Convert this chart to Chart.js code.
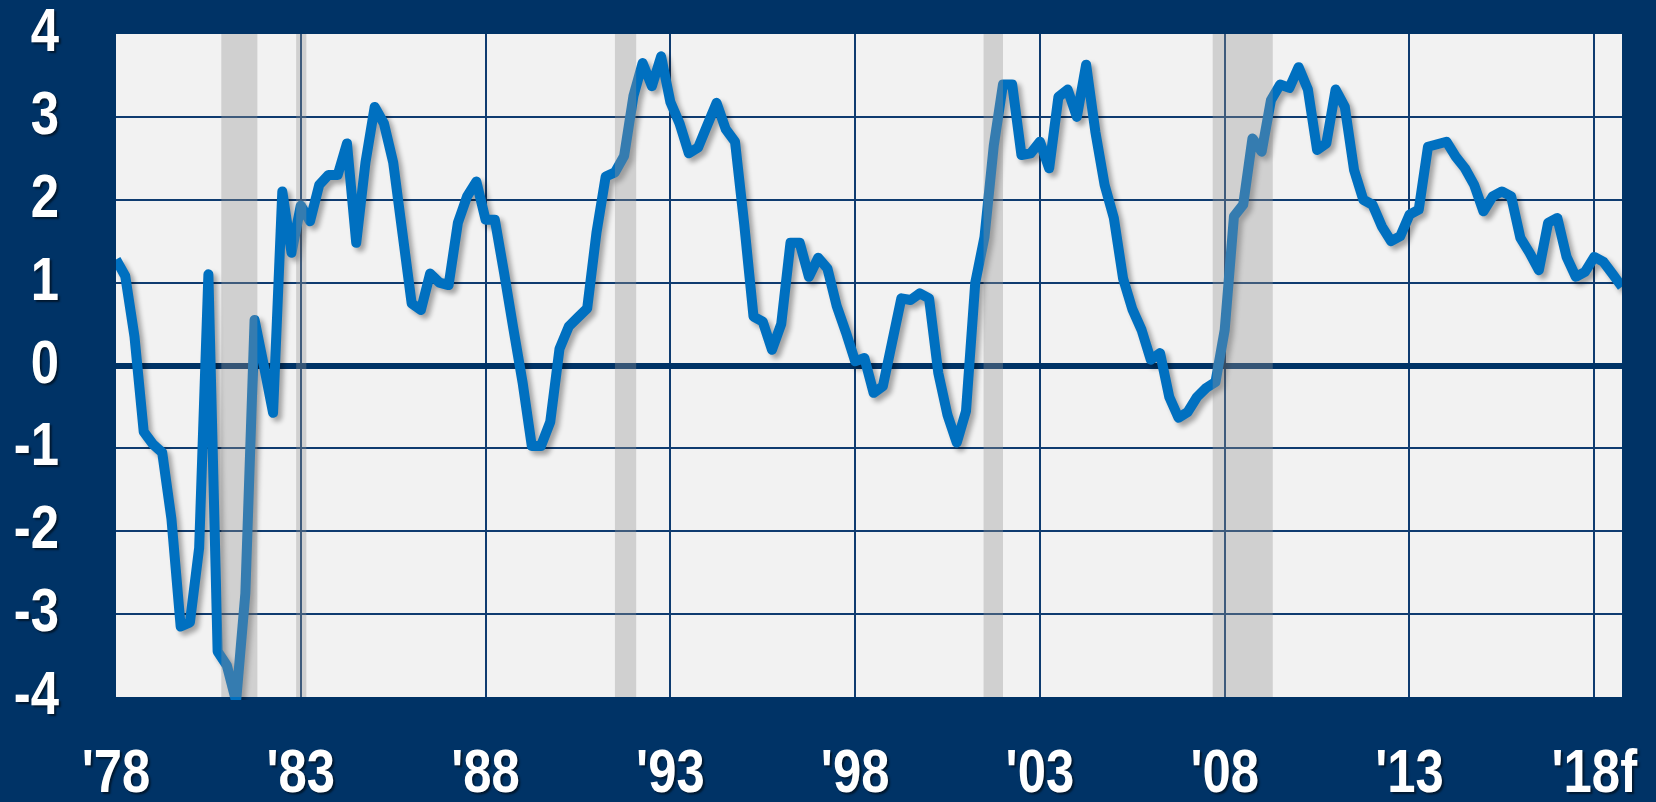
<!DOCTYPE html>
<html><head><meta charset="utf-8">
<script src="https://cdn.jsdelivr.net/npm/chart.js@4/dist/chart.umd.min.js"></script>
<style>html,body{margin:0;padding:0;background:#003366;overflow:hidden}canvas{display:block}</style>
</head><body>
<canvas id="c" width="1656" height="802"></canvas>
<script>
// ---------- data ----------
const quarters = [];
for (let y = 1978; y <= 2018; y++) for (let q = 1; q <= 4; q++) quarters.push(y + ' Q' + q);

const values = [
  1.28, 1.08, 0.35, -0.8, -0.95, -1.05, -1.85, -3.15, -3.1, -2.2,
  1.1, -3.45, -3.62, -4.05, -2.75, 0.55, 0.0, -0.57, 2.1, 1.36,
  1.93, 1.74, 2.18, 2.3, 2.3, 2.68, 1.48, 2.45, 3.12, 2.92,
  2.45, 1.6, 0.75, 0.67, 1.11, 1.0, 0.97, 1.72, 2.04, 2.22,
  1.76, 1.76, 1.12, 0.45, -0.2, -0.97, -0.97, -0.68, 0.2, 0.47,
  0.58, 0.69, 1.6, 2.28, 2.33, 2.53, 3.25, 3.65, 3.37, 3.73,
  3.18, 2.92, 2.56, 2.63, 2.9, 3.17, 2.85, 2.7, 1.7, 0.59,
  0.53, 0.19, 0.5, 1.48, 1.48, 1.07, 1.3, 1.17, 0.72, 0.4,
  0.05, 0.09, -0.33, -0.25, 0.28, 0.81, 0.79, 0.87, 0.81, -0.09,
  -0.6, -0.93, -0.55, 1.0, 1.55, 2.65, 3.39, 3.39, 2.54, 2.56,
  2.7, 2.38, 3.24, 3.33, 3.0, 3.63, 2.82, 2.18, 1.78, 1.05,
  0.68, 0.43, 0.07, 0.15, -0.38, -0.63, -0.56, -0.38, -0.27, -0.2,
  0.43, 1.8, 1.94, 2.74, 2.58, 3.2, 3.39, 3.35, 3.6, 3.33,
  2.6, 2.68, 3.33, 3.12, 2.36, 2.0, 1.94, 1.68, 1.5, 1.56,
  1.82, 1.88, 2.64, 2.67, 2.7, 2.52, 2.38, 2.18, 1.86, 2.04,
  2.1, 2.04, 1.54, 1.36, 1.15, 1.72, 1.78, 1.31, 1.07, 1.13,
  1.31, 1.25, 1.1, 0.95
];

const xTickLabels = ["'78", "'83", "'88", "'93", "'98", "'03", "'08", "'13", "'18f"];
const xTickEvery = 20;          // quarters between labelled years
const yMin = -4, yMax = 4, yStep = 1;

// recession shading, in quarter positions on the category axis
const recessionStart = [11.4, 19.5, 54.0, 93.9, 118.7];
const recessionEnd   = [15.3, 20.6, 56.3, 96.0, 125.2];

// ---------- styles ----------
const NAVY = '#003366';
const GRID = '#0f3c70';
const LINE = '#0070c0';
const FONT = "'Liberation Sans', Arial, sans-serif";
const CONDENSE = 0.82;   // narrow face look

const plotBg = {
  id: 'plotBg',
  beforeDraw(chart) {
    const {ctx, chartArea: a} = chart;
    ctx.save();
    ctx.fillStyle = '#f2f2f2';
    ctx.fillRect(a.left, a.top, a.right - a.left, a.bottom - a.top);
    ctx.restore();
    Object.values(chart.scales).forEach(s => {
      if (s._labelsPatched) return;
      s.drawLabels = function (area) {
        const c = this.ctx;
        const items = this.getLabelItems(area);
        for (const item of items) {
          if (!item.label) continue;
          const o = item.options;
          c.save();
          c.translate(o.translation[0], o.translation[1]);
          c.scale(CONDENSE, 1);
          c.font = item.font.string;
          c.fillStyle = o.color;
          c.textAlign = o.textAlign;
          c.textBaseline = o.textBaseline;
          c.shadowColor = 'rgba(0,0,0,0.55)';
          c.shadowOffsetX = 2; c.shadowOffsetY = 2; c.shadowBlur = 2;
          c.fillText(String(item.label), 0, item.textOffset);
          c.restore();
        }
      };
      s._labelsPatched = true;
    });
  }
};

const lineShadow = {
  id: 'lineShadow',
  beforeDatasetDraw(chart) {
    const ctx = chart.ctx;
    ctx.save();
    ctx.shadowColor = 'rgba(0,0,0,0.33)';
    ctx.shadowOffsetX = 4; ctx.shadowOffsetY = 4; ctx.shadowBlur = 5;
  },
  afterDatasetDraw(chart) { chart.ctx.restore(); }
};

const recessions = {
  id: 'recessions',
  afterDatasetsDraw(chart) {
    const {ctx, chartArea: a, scales: {x}} = chart;
    ctx.save();
    ctx.fillStyle = 'rgba(146,146,146,0.36)';
    recessionStart.forEach((s, k) => {
      const x0 = x.getPixelForValue(s), x1 = x.getPixelForValue(recessionEnd[k]);
      ctx.fillRect(x0, a.top, x1 - x0, a.bottom - a.top);
    });
    ctx.restore();
  }
};

new Chart(document.getElementById('c'), {
  type: 'line',
  data: {
    labels: quarters,
    datasets: [{
      data: values,
      borderColor: LINE,
      borderWidth: 10,
      borderJoinStyle: 'round',
      borderCapStyle: 'butt',
      pointRadius: 0,
      tension: 0,
      fill: false,
      clip: {left: 0, top: 0, right: 0, bottom: 3}
    }]
  },
  options: {
    responsive: false,
    devicePixelRatio: 1,
    animation: false,
    events: [],
    layout: {padding: {top: 34, right: 34, left: 0, bottom: 0}},
    plugins: {legend: {display: false}, tooltip: {enabled: false}},
    scales: {
      x: {
        type: 'category',
        offset: false,
        border: {display: false},
        grid: {
          drawTicks: false,
          color: c => (c.index % xTickEvery === 0 && c.index > 0) ? GRID : 'rgba(0,0,0,0)',
          lineWidth: 2
        },
        ticks: {
          autoSkip: false,
          maxRotation: 0,
          minRotation: 0,
          padding: 41,
          color: '#ffffff',
          font: {family: FONT, size: 62, weight: 'bold'},
          callback: (v, i) => (i % xTickEvery === 0) ? xTickLabels[i / xTickEvery] : ''
        },
        afterFit: s => { s.height = 105; s.paddingLeft = 0; s.paddingRight = 0; }
      },
      y: {
        min: yMin, max: yMax,
        border: {display: false},
        grid: {
          drawTicks: false,
          color: c => (c.tick.value === yMin || c.tick.value === yMax) ? 'rgba(0,0,0,0)' : (c.tick.value === 0 ? NAVY : GRID),
          lineWidth: c => c.tick.value === 0 ? 6 : 2
        },
        ticks: {
          stepSize: yStep,
          padding: 57,
          color: '#ffffff',
          font: {family: FONT, size: 62, weight: 'bold'}
        },
        afterFit: s => { s.width = 116; s.paddingTop = 0; s.paddingBottom = 0; }
      }
    }
  },
  plugins: [plotBg, lineShadow, recessions]
});
</script>
</body></html>
